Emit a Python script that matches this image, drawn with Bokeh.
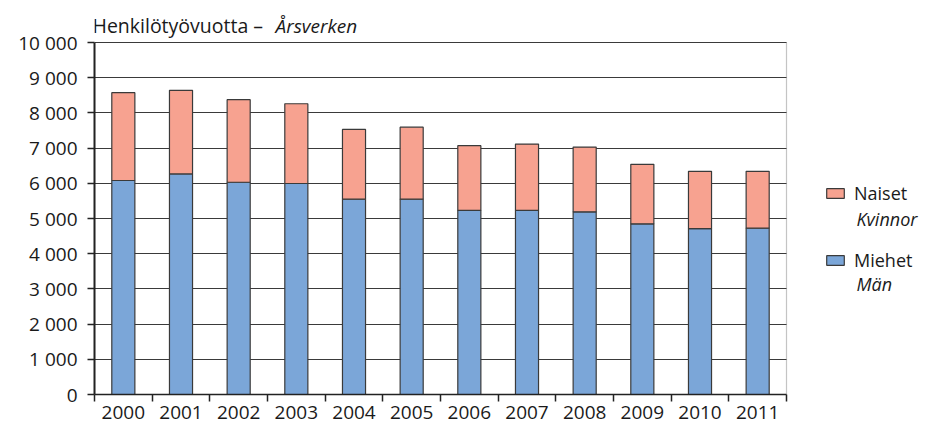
from bokeh.plotting import figure
from bokeh.models import (ColumnDataSource, FixedTicker, Label, Legend, LegendItem, Range1d, BoxAnnotation)
from bokeh.embed import file_html
from bokeh.resources import INLINE

years = ["2000", "2001", "2002", "2003", "2004", "2005", "2006", "2007", "2008", "2009", "2010", "2011"]
miehet = [6080, 6265, 6030, 5995, 5550, 5550, 5230, 5230, 5190, 4850, 4715, 4725]
naiset_total = [8575, 8640, 8375, 8260, 7530, 7595, 7070, 7115, 7030, 6540, 6340, 6340]
naiset = [t - m for t, m in zip(naiset_total, miehet)]
y_ticks = [0, 1000, 2000, 3000, 4000, 5000, 6000, 7000, 8000, 9000, 10000]
y_tick_labels = ["0", "1 000", "2 000", "3 000", "4 000", "5 000", "6 000", "7 000", "8 000", "9 000", "10 000"]

title_plain = "Henkilötyövuotta – "
title_italic = "Årsverken"
leg_naiset = ("Naiset", "Kvinnor")
leg_miehet = ("Miehet", "Män")

BLUE = "#7BA6D8"
SALMON = "#F7A290"
EDGE = "#3a3a3a"
FONT = "Open Sans"

# layout (pixels)
W, H = 929, 426
LEFT, RIGHT_AREA, TOP, BOTTOM = 94, 786, 42, 394
FR_TOP = 4
n = len(years)
ymax = y_ticks[-1]
px_per_x = (RIGHT_AREA - LEFT) / n
px_per_y = (BOTTOM - TOP) / ymax
x_end = (W - LEFT) / px_per_x
y_end = (BOTTOM - FR_TOP) / px_per_y

xc = [i + 0.5 for i in range(n)]
src = ColumnDataSource(dict(x=xc, m=miehet, mt=[0] * n, n=naiset, top=naiset_total))

p = figure(width=W, height=H, output_backend="svg", toolbar_location=None,
           x_range=Range1d(0, x_end), y_range=Range1d(0, y_end),
           min_border_left=LEFT, min_border_right=0, min_border_top=FR_TOP,
           min_border_bottom=H - BOTTOM)
p.background_fill_color = "white"
p.border_fill_color = "white"
p.outline_line_color = None

r_m = p.vbar(x="x", width=0.4, bottom="mt", top="m", source=src,
             fill_color=BLUE, line_color=EDGE, line_width=1.2)
r_n = p.vbar(x="x", width=0.4, bottom="m", top="top", source=src,
             fill_color=SALMON, line_color=EDGE, line_width=1.2)

p.add_layout(BoxAnnotation(left=0, right=n, bottom=0, top=ymax, fill_alpha=0,
                           line_color=EDGE, line_width=1.2, level="underlay"))

# x axis: labels at centres, ticks at category boundaries
p.xaxis.ticker = FixedTicker(ticks=xc, minor_ticks=list(range(n + 1)))
p.xaxis.major_label_overrides = {x: y for x, y in zip(xc, years)}
p.xaxis.bounds = (0, n)
p.xaxis.major_tick_out = 0
p.xaxis.major_tick_in = 0
p.xaxis.minor_tick_out = 7
p.xaxis.minor_tick_in = 0
p.xaxis.minor_tick_line_color = "#222222"
p.xaxis.minor_tick_line_width = 1.5
p.xaxis.major_label_standoff = 4
p.xaxis.axis_line_color = "#222222"
p.xaxis.axis_line_width = 1.5

p.yaxis.ticker = FixedTicker(ticks=y_ticks)
p.yaxis.major_label_overrides = {t: l for t, l in zip(y_ticks, y_tick_labels)}
p.yaxis.bounds = (0, ymax)
p.yaxis.major_tick_out = 7
p.yaxis.major_tick_in = 0
p.yaxis.minor_tick_line_color = None
p.yaxis.major_tick_line_color = "#222222"
p.yaxis.major_tick_line_width = 1.5
p.yaxis.axis_line_color = "#222222"
p.yaxis.axis_line_width = 2
p.yaxis.major_label_standoff = 10

for ax in (p.xaxis, p.yaxis):
    ax.major_label_text_font = FONT
    ax.major_label_text_font_size = "19px"
    ax.major_label_text_color = "#1a1a1a"

p.xgrid.grid_line_color = None
p.ygrid.ticker = FixedTicker(ticks=y_ticks)
p.ygrid.cross_bounds = (0, n)
p.ygrid.grid_line_color = EDGE
p.ygrid.grid_line_width = 1.2

# title
p.add_layout(Label(x=0, y=ymax, x_offset=-2, y_offset=17, text=title_plain,
                   text_font=FONT, text_font_size="19.5px", text_baseline="middle",
                   text_color="#1a1a1a"))
p.add_layout(Label(x=181, x_units="screen", y=ymax, y_offset=17, text=title_italic,
                   text_font=FONT, text_font_size="19px", text_font_style="italic",
                   text_baseline="middle", text_color="#1a1a1a"))

# legend
legend = Legend(items=[LegendItem(label=leg_naiset[0], renderers=[r_n]),
                       LegendItem(label=leg_miehet[0], renderers=[r_m])],
                location=(730, 122), orientation="vertical",
                glyph_width=22, glyph_height=12, label_height=20, spacing=43,
                label_standoff=8, padding=0, margin=0,
                border_line_color=None, background_fill_alpha=0,
                label_text_font=FONT, label_text_font_size="18px",
                label_text_color="#1a1a1a")
p.add_layout(legend, "center")
p.add_layout(Label(x=762, x_units="screen", y=176, y_units="screen", text=leg_naiset[1],
                   text_font=FONT, text_font_size="18px", text_font_style="italic",
                   text_baseline="middle", text_color="#1a1a1a"))
p.add_layout(Label(x=762, x_units="screen", y=111, y_units="screen", text=leg_miehet[1],
                   text_font=FONT, text_font_size="18px", text_font_style="italic",
                   text_baseline="middle", text_color="#1a1a1a"))

open("out.html", "w").write(file_html(p, INLINE))
